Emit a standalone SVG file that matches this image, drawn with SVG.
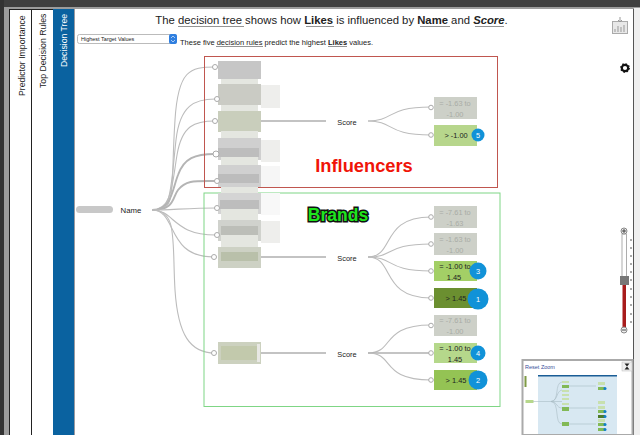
<svg xmlns="http://www.w3.org/2000/svg" width="640" height="435" viewBox="0 0 640 435">
<style>
text{font-family:"Liberation Sans",Arial,sans-serif;fill:#222}
.c{fill:none;stroke:#bcbcbc;stroke-width:1.1}
.w{fill:none;stroke:#b4b4b4;stroke-width:1.9}
.t{stroke:#b0b0b0;stroke-width:1.3}
.p{fill:#fff;stroke:#aaa;stroke-width:1}
.lb{font-size:7.400px;text-anchor:middle}
.g{fill:#cdd0c8}.gt{fill:#a9aca6;font-size:7.400px;text-anchor:middle}
.b{fill:#1192d8}.n{fill:#fff;font-size:7.400px;text-anchor:middle}
.bl{fill:#c6c6c6}.lt{fill:#e4e6e0}.vl{fill:#eeeeec}
.ul{stroke:#666;stroke-width:.7}
</style>
<rect width="640" height="435" fill="#fff"/>
<rect width="640" height="8" fill="#3f3f3f"/>
<rect y="7" width="640" height="2" fill="#9c9c9c"/>
<rect width="4" height="435" fill="#333"/>
<rect x="4" y="8" width="5" height="427" fill="#9c9c9c"/>
<rect x="634" y="8" width="6" height="427" fill="#efefef"/>
<rect x="633" y="9" width="1" height="426" fill="#555"/>
<g id="tabs">
<rect x="9.500" y="9.500" width="22" height="426" fill="#fff" stroke="#222"/>
<rect x="31.500" y="9.500" width="22" height="426" fill="#fff" stroke="#222"/>
<rect x="53" y="9" width="21" height="426" fill="#0a62a0"/>
<line x1="74.500" y1="9" x2="74.500" y2="435" stroke="#9a9aa0"/>
<text transform="translate(24.500 96) rotate(-90)" font-size="8.700">Predictor Importance</text>
<text transform="translate(45.500 88) rotate(-90)" font-size="8.700">Top Decision Rules</text>
<text transform="translate(66.500 67) rotate(-90)" font-size="8.700" style="fill:#fff">Decision Tree</text>
</g>
<g id="header">
<text x="331.500" y="24" font-size="11.300" text-anchor="middle">The decision tree shows how <tspan font-weight="bold">Likes</tspan> is influenced by <tspan font-weight="bold">Name</tspan> and <tspan font-weight="bold" font-style="italic">Score</tspan>.</text>
<path class="ul" d="M178 26.500H244M306 26.500H334M420 26.500H450M475 26.500H504"/>
<rect x="77.500" y="34.500" width="99" height="9" rx="2" fill="#fff" stroke="#bbb"/>
<rect x="169" y="34" width="8" height="10" rx="2" fill="#2f7fe0"/>
<path d="M171 38l2-2 2 2M171 40l2 2 2-2" fill="none" stroke="#fff" stroke-width=".6"/>
<text x="81" y="41.300" font-size="5.500">Highest Target Values</text>
<text x="180" y="44.800" font-size="7.500">These five decision rules predict the highest <tspan font-weight="bold">Likes</tspan> values.</text>
<path class="ul" d="M216 46.500H263M328 46.500H347"/>
</g>
<g id="icons">
<rect x="612.500" y="21.500" width="15" height="12" fill="#e8e8e8" stroke="#aaa"/>
<path d="M620 17v5M618 20l2 2 2-2M615 32v-3M618 32v-6M621 32v-5M624 32v-7" stroke="#999" fill="none"/>
<circle cx="625" cy="68" r="3.200" fill="none" stroke="#111" stroke-width="2.200"/>
<circle cx="625" cy="68" r="4.300" fill="none" stroke="#111" stroke-width="1.200" stroke-dasharray="1.500 1.880"/>
</g>
<g id="connectors">
<path class="c" d="M152 210C178 210 170 195 175 120C178 70 190 67 215 67"/>
<path class="c" d="M152 210C172 210 170 195 176 140C180 105 195 99 215 99"/>
<path class="c" d="M152 210C172 210 172 185 177 155C182 125 195 121 215 121"/>
<path class="w" d="M152 210C172 210 172 190 178 175C184 158 195 154 215 154"/>
<path class="w" d="M152 210C175 210 172 198 178 190C186 180 195 181 215 181"/>
<path class="c" d="M152 210C170 210 190 208 216 208"/>
<path class="c" d="M152 210C175 210 172 235 216 235"/>
<path class="c" d="M152 210C178 210 165 257 214 257"/>
<path class="c" d="M152 210C178 210 172 240 175 290C178 335 190 353 215 353"/>
<path class="t" d="M261 121H326M261 257H326M261 353H326"/>
<path class="c" d="M368 121C395 121 385 107 431 107"/>
<path class="c" d="M368 121C395 121 385 135 431 135"/>
<path class="c" d="M368 257C395 257 380 217 431 217"/>
<path class="c" d="M368 257C395 257 385 244 431 244"/>
<path class="c" d="M368 257C395 257 385 271 431 271"/>
<path class="c" d="M368 257C395 257 380 298 431 298"/>
<path class="c" d="M368 353C395 353 380 325 431 325"/>
<path class="t" d="M368 353H431"/>
<path class="c" d="M368 353C395 353 380 380 431 380"/>
</g>
<g id="boxes-influencers">
<rect x="204.500" y="56.500" width="293" height="131" fill="none" stroke="#c0564f"/>
</g>
<g id="boxes-brands">
<rect x="204" y="193" width="296" height="213.500" fill="none" stroke="#7fd685"/>
</g>
<g id="name-root">
<rect x="76" y="206" width="37" height="7" rx="3.500" fill="#c8c8c8"/>
<text class="lb" x="131" y="213" style="font-size:7.800px">Name</text>
</g>
<g id="nodes-name">
<rect x="218" y="61" width="43" height="18" class="bl"/>
<rect x="221" y="79" width="37" height="8" class="lt"/>
<rect x="261" y="85" width="19" height="23" class="vl"/>
<rect x="218" y="84" width="43" height="21" fill="#cacbc4"/>
<rect x="221" y="105" width="37" height="7" class="lt"/>
<rect x="218" y="111" width="43" height="21" fill="#c9cebc"/>
<rect x="221" y="131" width="37" height="8" class="lt"/>
<rect x="261" y="140" width="19" height="22" class="vl"/>
<rect x="218" y="138" width="43" height="22" fill="#cfcfcf"/><rect x="218" y="148" width="41" height="9" fill="#bdbdbd"/>
<rect x="221" y="157" width="37" height="9" class="lt"/>
<rect x="261" y="166" width="19" height="21" fill="#f6f6f6"/>
<rect x="218" y="165" width="43" height="22" fill="#d0d0d0"/><rect x="218" y="174" width="41" height="9" fill="#bcbcbc"/>
<rect x="221" y="187" width="37" height="7" class="lt"/>
<rect x="261" y="193" width="19" height="22" fill="#f8f8f8"/>
<rect x="218" y="193" width="43" height="21" fill="#d4d4d4"/><rect x="220" y="200" width="39" height="9" fill="#bdbdbd"/>
<rect x="221" y="209" width="37" height="11" class="lt"/>
<rect x="261" y="221" width="19" height="22" class="vl"/>
<rect x="218" y="220" width="43" height="21" fill="#d0d2cd"/><rect x="221" y="226" width="37" height="9" fill="#bcbeb8"/>
<rect x="221" y="235" width="37" height="13" class="lt"/>
<rect x="218" y="247" width="43" height="21" fill="#cdd1c4"/><rect x="221" y="252" width="37" height="9" fill="#b9c0aa"/>
<rect x="218" y="342" width="43" height="22" fill="#ccd1bf"/><rect x="221" y="346" width="36" height="14" fill="#c2c9ac"/><rect x="257" y="344" width="3" height="18" fill="#e8e8e4"/>
<circle class="p" cx="215" cy="67" r="2.500"/><circle class="p" cx="217" cy="99" r="2.500"/><circle class="p" cx="215" cy="121" r="2.500"/><circle class="p" cx="216" cy="154" r="3"/><circle class="p" cx="217" cy="181" r="2.500"/><circle class="p" cx="217" cy="208" r="2.500"/><circle class="p" cx="217" cy="235" r="2.500"/><circle class="p" cx="214" cy="257" r="2.500"/><circle class="p" cx="214" cy="353" r="2.500"/>
</g>
<g id="labels-score">
<text class="lb" x="347" y="124.500">Score</text>
<text class="lb" x="347" y="260.500">Score</text>
<text class="lb" x="347" y="356.500">Score</text>
</g>
<g id="leaf-a1"><rect class="g" x="434" y="97" width="43" height="22"/><circle class="p" cx="431" cy="107.500" r="2.300"/><text class="gt" x="455" y="105.500">= -1.63 to</text><text class="gt" x="455" y="116.500">-1.00</text></g>
<g id="leaf-a2"><rect x="434" y="125" width="43" height="21" fill="#b7d68c"/><circle class="p" cx="431" cy="135" r="2.300"/><text class="lb" x="456" y="138">&gt; -1.00</text><circle class="b" cx="478" cy="135" r="6.500"/><text class="n" x="478" y="138">5</text></g>
<g id="leaf-b1"><rect class="g" x="434" y="206" width="43" height="22"/><circle class="p" cx="431" cy="217" r="2.300"/><text class="gt" x="455" y="214.500">= -7.61 to</text><text class="gt" x="455" y="225.500">-1.63</text></g>
<g id="leaf-b2"><rect class="g" x="434" y="233" width="43" height="22"/><circle class="p" cx="431" cy="244" r="2.300"/><text class="gt" x="455" y="241.500">= -1.63 to</text><text class="gt" x="455" y="252.500">-1.00</text></g>
<g id="leaf-b3"><rect x="434" y="261" width="43" height="20" fill="#a3cf66"/><circle class="p" cx="431" cy="271" r="2.300"/><text class="lb" x="455" y="269">= -1.00 to</text><text class="lb" x="454" y="280">1.45</text><circle class="b" cx="478" cy="271" r="8.500"/><text class="n" x="478" y="274">3</text></g>
<g id="leaf-b4"><rect x="434" y="288" width="43" height="20" fill="#6b8f30"/><circle class="p" cx="431" cy="298" r="2.300"/><text class="lb" x="456" y="301">&gt; 1.45</text><circle class="b" cx="478" cy="299" r="10.500"/><text class="n" x="478" y="302">1</text></g>
<g id="leaf-c1"><rect class="g" x="434" y="315" width="43" height="21"/><circle class="p" cx="431" cy="325.500" r="2.300"/><text class="gt" x="455" y="323">= -7.61 to</text><text class="gt" x="455" y="334">-1.00</text></g>
<g id="leaf-c2"><rect x="434" y="343" width="43" height="20" fill="#b5d88b"/><circle class="p" cx="431" cy="353" r="2.300"/><text class="lb" x="455" y="351">= -1.00 to</text><text class="lb" x="455" y="362">1.45</text><circle class="b" cx="478" cy="353" r="7.500"/><text class="n" x="478" y="356">4</text></g>
<g id="leaf-c3"><rect x="434" y="370" width="43" height="20" fill="#94c354"/><circle class="p" cx="431" cy="380" r="2.300"/><text class="lb" x="456" y="383">&gt; 1.45</text><circle class="b" cx="478" cy="380" r="9.500"/><text class="n" x="478" y="383">2</text></g>
<g id="callouts">
<text x="364" y="172" font-size="18.300" font-weight="bold" text-anchor="middle" style="fill:#f01408;stroke:#fff;stroke-width:3;paint-order:stroke">Influencers</text>
<text x="338" y="221" font-size="17.500" font-weight="bold" text-anchor="middle" style="fill:#1ee51e;stroke:#111;stroke-width:3;paint-order:stroke">Brands</text>
</g>
<g id="zoom-slider">
<rect x="622" y="234" width="4.500" height="46" fill="#fff" stroke="#999" stroke-width=".8"/>
<rect x="622.500" y="285" width="3.500" height="43" fill="#a81c1c"/>
<rect x="620" y="276" width="9" height="9" fill="#777"/>
<path d="M630 240h2M630 248h2M630 256h2M630 264h2M630 272h2M630 280h2M630 289h2M630 297h2M630 305h2M630 314h2M630 322h2" stroke="#555"/>
<circle cx="624" cy="231" r="3" fill="#eee" stroke="#888"/><path d="M622 231h4M624 229v4" stroke="#222" stroke-width=".8"/>
<circle cx="624" cy="330" r="3" fill="#eee" stroke="#888"/><path d="M622 330h4" stroke="#222" stroke-width=".8"/>
</g>
<g id="overview">
<rect x="522.500" y="360" width="110" height="75" fill="#fff" stroke="#aaa" stroke-width="2"/>
<text x="525" y="369" font-size="5.500" style="fill:#39509a">Reset Zoom</text>
<rect x="622" y="362" width="10" height="9" fill="#eee" stroke="#bbb" stroke-width=".5"/>
<path d="M624.500 363.500h5l-2.500 3zM624.500 369.500h5l-2.500-3z" fill="#222"/>
<rect x="538" y="376" width="79" height="58" fill="#d8e8f2"/>
<rect x="538" y="375" width="79" height="1.500" fill="#1a5d96"/>
<rect x="524.500" y="376" width="2" height="11" fill="#7f9a45"/>
<rect x="525.500" y="400" width="8" height="3" fill="#b6d78b"/>
<path d="M533 401.500H551M551 401.500C560 401 554 383 562 382M551 401.500C558 401 556 391 562 390M551 401.500H562M551 401.500C558 402 556 408 562 408M551 401.500C560 402 554 424 562 424M569 386H596M569 408H596M569 424H596" stroke="#a9bcc5" stroke-width=".6" fill="none"/>
<g fill="#c8e0ae"><rect x="562" y="381" width="7" height="2"/><rect x="562" y="390" width="7" height="2"/><rect x="562" y="394" width="7" height="2"/><rect x="562" y="398" width="7" height="2"/><rect x="562" y="403" width="7" height="2"/><rect x="598" y="382" width="7" height="3"/><rect x="598" y="401" width="7" height="3"/><rect x="598" y="406" width="7" height="3"/><rect x="598" y="419" width="7" height="3"/></g>
<g fill="#82b956">
<rect x="562" y="385" width="7" height="3"/><rect x="562" y="407" width="7" height="4"/><rect x="562" y="422" width="7" height="4"/>
<rect x="598" y="387" width="7" height="3"/><rect x="598" y="410" width="7" height="3"/><rect x="598" y="415" width="7" height="3" fill="#4e7a28"/><rect x="598" y="423" width="7" height="3"/><rect x="598" y="428" width="7" height="3"/>
</g>
<g fill="#0f7fc8"><circle cx="605" cy="388.500" r="1.500"/><circle cx="605" cy="411.500" r="1.500"/><circle cx="605" cy="416.500" r="1.500"/><circle cx="605" cy="424.500" r="1.500"/><circle cx="605" cy="429.500" r="1.500"/></g>
</g>
</svg>
